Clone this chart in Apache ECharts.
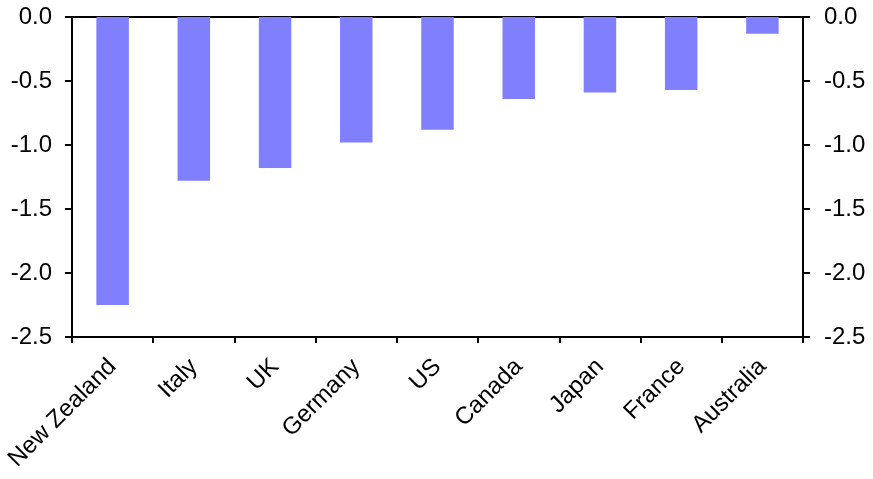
<!DOCTYPE html>
<html>
<head>
<meta charset="utf-8">
<script src="https://cdn.jsdelivr.net/npm/echarts@6/dist/echarts.min.js"></script>
<style>html,body{margin:0;padding:0;background:#fff}#c{width:873px;height:479px}</style>
</head>
<body>
<div id="c"></div>
<script>
const categories = ['New Zealand','Italy','UK','Germany','US','Canada','Japan','France','Australia'];
const values = [-2.25, -1.28, -1.18, -0.98, -0.88, -0.64, -0.59, -0.57, -0.13];
const yTicks = { min: -2.5, max: 0, interval: 0.5 };

const chart = echarts.init(document.getElementById('c'), null, {renderer: 'canvas'});
const font = 'Arial, "Liberation Sans", sans-serif';
const yAxisBase = {
  type: 'value', min: yTicks.min, max: yTicks.max, interval: yTicks.interval,
  axisLine: { show: true, lineStyle: { color: '#000', width: 2 } },
  axisTick: { show: true, inside: false, length: 7, lineStyle: { color: '#000', width: 2 } },
  splitLine: { show: false },
  axisLabel: { color: '#000', fontSize: 24, fontFamily: font, margin: 20, formatter: v => v.toFixed(1) }
};
chart.setOption({
  animation: false,
  grid: { left: 72, right: 70, top: 17, bottom: 142, containLabel: false },
  xAxis: [{
    type: 'category', data: categories, position: 'bottom', boundaryGap: true,
    axisLine: { show: true, onZero: false, lineStyle: { color: '#000', width: 2 } },
    axisTick: { show: true, length: 6, alignWithLabel: false, lineStyle: { color: '#000', width: 2 } },
    axisLabel: { color: '#000', fontSize: 24, fontFamily: font, rotate: 45, margin: 26, interval: 0 }
  }, {
    type: 'category', data: categories, position: 'top',
    axisLine: { show: true, onZero: false, lineStyle: { color: '#000', width: 2 } },
    axisTick: { show: false }, axisLabel: { show: false }
  }],
  yAxis: [
    Object.assign({}, yAxisBase, { position: 'left' }),
    Object.assign({}, yAxisBase, { position: 'right', axisLabel: Object.assign({}, yAxisBase.axisLabel, { margin: 21 }) })
  ],
  series: [{
    type: 'bar', data: values, xAxisIndex: 0, yAxisIndex: 0,
    barWidth: '40%', itemStyle: { color: '#8080FF' }
  }]
});
</script>
</body>
</html>
